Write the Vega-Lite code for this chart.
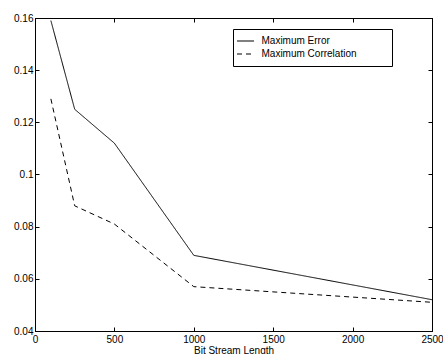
{
  "$schema": "https://vega.github.io/schema/vega-lite/v6.json",
  "width": 397,
  "height": 313,
  "autosize": {"type": "none"},
  "padding": {"left": 35, "top": 18, "right": 11, "bottom": 23},
  "background": "white",
  "config": {
    "font": "Liberation Sans",
    "view": {"stroke": "black", "strokeWidth": 1},
    "axis": {
      "grid": false,
      "domainColor": "black",
      "tickColor": "black",
      "labelColor": "black",
      "titleColor": "black",
      "labelFontSize": 10,
      "titleFontSize": 10,
      "titleFontWeight": "normal",
      "tickSize": -4,
      "labelFlush": false
    }
  },
  "data": {
    "values": [
      {"len": 100, "value": 0.159, "series": "Maximum Error"},
      {"len": 250, "value": 0.125, "series": "Maximum Error"},
      {"len": 500, "value": 0.112, "series": "Maximum Error"},
      {"len": 1000, "value": 0.069, "series": "Maximum Error"},
      {"len": 2500, "value": 0.052, "series": "Maximum Error"},
      {"len": 100, "value": 0.129, "series": "Maximum Correlation"},
      {"len": 250, "value": 0.088, "series": "Maximum Correlation"},
      {"len": 500, "value": 0.081, "series": "Maximum Correlation"},
      {"len": 1000, "value": 0.057, "series": "Maximum Correlation"},
      {"len": 2500, "value": 0.051, "series": "Maximum Correlation"}
    ]
  },
  "resolve": {"axis": {"x": "independent", "y": "independent"}},
  "layer": [
    {
      "mark": {"type": "line", "color": "black", "strokeWidth": 1, "clip": true},
      "encoding": {
        "x": {
          "field": "len", "type": "quantitative",
          "scale": {"domain": [0, 2500], "nice": false},
          "axis": {"orient": "bottom", "values": [0, 500, 1000, 1500, 2000, 2500], "format": "d", "title": "Bit Stream Length", "titlePadding": 1, "labelPadding": 7}
        },
        "y": {
          "field": "value", "type": "quantitative",
          "scale": {"domain": [0.04, 0.16], "nice": false, "zero": false},
          "axis": {"orient": "left", "values": [0.04, 0.06, 0.08, 0.1, 0.12, 0.14, 0.16], "title": null, "format": "~g", "labelPadding": 6}
        },
        "strokeDash": {
          "field": "series", "type": "nominal",
          "scale": {"domain": ["Maximum Error", "Maximum Correlation"], "range": [[1, 0], [5, 4]]},
          "legend": {
            "title": null,
            "orient": "none",
            "legendX": 198,
            "legendY": 11,
            "strokeColor": "black",
            "fillColor": "white",
            "padding": 7,
            "labelFontSize": 10,
            "labelColor": "black",
            "symbolType": "M-2,0H2",
            "symbolStrokeColor": "black",
            "symbolStrokeWidth": 1,
            "symbolSize": 72,
            "symbolOffset": 0.5,
            "rowPadding": 3,
            "labelOffset": 11,
            "labelExpr": "datum.label + '\u2800\u2800\u2800\u2800'"
          }
        }
      }
    },
    {
      "mark": {"type": "point", "opacity": 0},
      "encoding": {
        "x": {
          "field": "len", "type": "quantitative",
          "axis": {"orient": "top", "values": [0, 500, 1000, 1500, 2000, 2500], "labels": false, "title": null}
        },
        "y": {
          "field": "value", "type": "quantitative",
          "axis": {"orient": "right", "values": [0.04, 0.06, 0.08, 0.1, 0.12, 0.14, 0.16], "labels": false, "title": null}
        }
      }
    }
  ]
}
